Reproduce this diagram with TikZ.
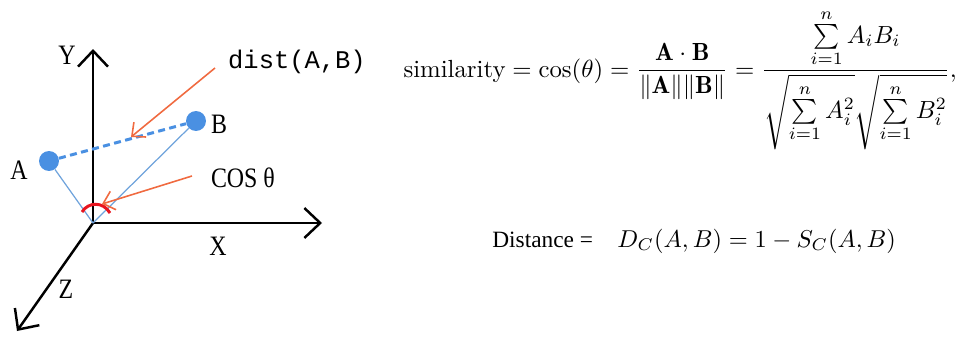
\documentclass[tikz,border=0pt]{standalone}
\usepackage{amsmath,amssymb}
\usepackage{fontspec}
\newfontfamily\simfont{Liberation Serif}
\newfontfamily\courfont{Liberation Mono}
\usetikzlibrary{arrows.meta}
\definecolor{dotblue}{HTML}{4A90E2}
\definecolor{linkblue}{HTML}{6FA3DC}
\definecolor{arrred}{HTML}{F06A40}
\definecolor{anglered}{HTML}{E8141E}

\begin{document}
\begin{tikzpicture}[x=0.02cm,y=-0.02cm,
  axis/.style={line width=1.4pt,-{Straight Barb[length=9pt,width=17pt,line width=1.4pt]}},
  redptr/.style={arrred,line width=0.9pt,-{Straight Barb[length=6pt,width=11pt]}},
  dot/.style={circle,fill=dotblue,inner sep=0pt,minimum size=0.4cm},
  lab/.style={font=\simfont\fontsize{16}{16}\selectfont,inner sep=0pt,xscale=0.85}]
  \useasboundingbox (0,0) rectangle (974,338);
  % axes
  \coordinate (O) at (93,223);
  \coordinate (Yend) at (93,49);
  \coordinate (Xend) at (322,223);
  \coordinate (Zend) at (17,331);
  \draw[axis] (O) -- (Yend);
  \draw[axis] (O) -- (Xend);
  \draw[axis] (O) -- (Zend);
  \node[lab] (ylab) at (67,55) {Y};
  \node[lab] (xlab) at (218,246) {X};
  \node[lab] (zlab) at (66,289) {Z};
  % the two points
  \node[dot] (A) at (49,161) {};
  \node[dot] (B) at (196,121) {};
  \node[lab] (alab) at (19,170) {A};
  \node[lab] (blab) at (219,124) {B};
  \draw[linkblue,line width=0.7pt] (A) -- (O);
  \draw[linkblue,line width=0.7pt] (B) -- (O);
  \draw[dotblue,line width=1.7pt,dash pattern=on 4pt off 2.5pt] (A) -- (B);
  \draw[anglered,line width=1.7pt] (82,212) .. controls (88,202) and (103,201) .. (110,213);
  % pointers
  \coordinate (d0) at (215,68); \coordinate (d1) at (131,137);
  \coordinate (c0) at (192,176); \coordinate (c1) at (102,204);
  \draw[redptr] (d0) -- (d1);
  \draw[redptr] (c0) -- (c1);
  \node[font=\courfont\fontsize{14.5}{14.5}\selectfont,inner sep=0pt] (dlab) at (297,62) {dist(A,B)};
  \node[lab] (clab) at (243,178) {COS θ};
  % formulas
  \node[anchor=base west,scale=1.41,inner sep=0pt] (sim) at (403,77)
    {$\displaystyle \text{similarity}=\cos(\theta)=\frac{\mathbf{A}\cdot\mathbf{B}}{\|\mathbf{A}\|\|\mathbf{B}\|}=\frac{\sum\limits_{i=1}^{n}A_iB_i}{\sqrt{\sum\limits_{i=1}^{n}A_i^2}\sqrt{\sum\limits_{i=1}^{n}B_i^2}},$};
  \node[anchor=base west,font=\simfont\fontsize{13.3}{13.3}\selectfont,inner sep=0pt] (dtext) at (492,247) {Distance =};
  \node[anchor=base west,scale=1.39,inner sep=0pt] (dist) at (617,247) {$D_C(A,B)=1-S_C(A,B)$};
\end{tikzpicture}
\end{document}
